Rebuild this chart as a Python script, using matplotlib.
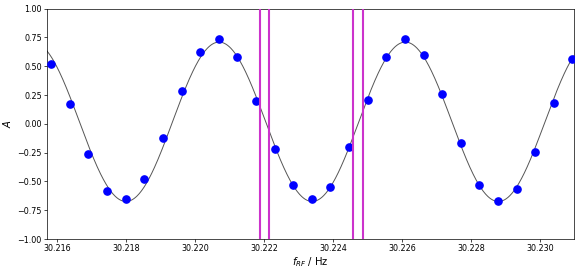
import numpy as np
import matplotlib
matplotlib.use("Agg")
import matplotlib.pyplot as plt

# measured data points
freq = [30.215826, 30.216368, 30.216907, 30.217449, 30.217991, 30.218530,
        30.219072, 30.219614, 30.220154, 30.220696, 30.221226, 30.221768,
        30.222310, 30.222841, 30.223383, 30.223922, 30.224464, 30.225006,
        30.225545, 30.226087, 30.226629, 30.227168, 30.227710, 30.228241,
        30.228783, 30.229325, 30.229864, 30.230397, 30.230936]
amp = [0.520, 0.175, -0.259, -0.583, -0.655, -0.482, -0.125, 0.288, 0.627,
       0.734, 0.578, 0.201, -0.216, -0.534, -0.655, -0.551, -0.198, 0.207,
       0.578, 0.734, 0.601, 0.262, -0.169, -0.534, -0.670, -0.563, -0.242,
       0.178, 0.561]

# vertical marker lines
vlines = [30.221875, 30.222154, 30.224580, 30.224861]

# sinusoidal fit parameters
fit_amp = 0.692
fit_offset = 0.018
fit_period = 0.0054
fit_peak = 30.22070

xlim = (30.21571, 30.23099)
ylim = (-1.0, 1.0)
xticks = [30.216, 30.218, 30.220, 30.222, 30.224, 30.226, 30.228, 30.230]
yticks = [-1.0, -0.75, -0.5, -0.25, 0.0, 0.25, 0.5, 0.75, 1.0]

xf = np.linspace(xlim[0] - 0.0005, xlim[1] + 0.0005, 1000)
yf = fit_offset + fit_amp * np.cos(2 * np.pi * (xf - fit_peak) / fit_period)

fig = plt.figure(figsize=(5.81, 2.71), dpi=100)
ax = fig.add_axes([0.0809, 0.118, 0.907, 0.850])
ax.plot(xf, yf, color='#555555', lw=0.7, zorder=2)
ax.plot(freq, amp, 'o', color='#0000ff', ms=5.2, zorder=3)
for v in vlines:
    ax.axvline(v, color='#cc33cc', lw=1.5, zorder=4)
ax.set_xlim(*xlim)
ax.set_ylim(*ylim)
ax.set_xticks(xticks)
ax.set_xticklabels([f"{t:.3f}" for t in xticks])
ax.set_yticks(yticks)
ax.set_yticklabels([f"{t:.2f}".replace('-', '\u2212') for t in yticks])
ax.tick_params(labelsize=5.8, length=2.2, width=0.5, pad=1.5)
for s in ax.spines.values():
    s.set_linewidth(0.5)
ax.set_xlabel(r'$f_{RF}$ / Hz', fontsize=7.2, labelpad=1.5)
ax.set_ylabel(r'$A$', fontsize=7.2, labelpad=3)
fig.savefig('out.png', dpi=100)
